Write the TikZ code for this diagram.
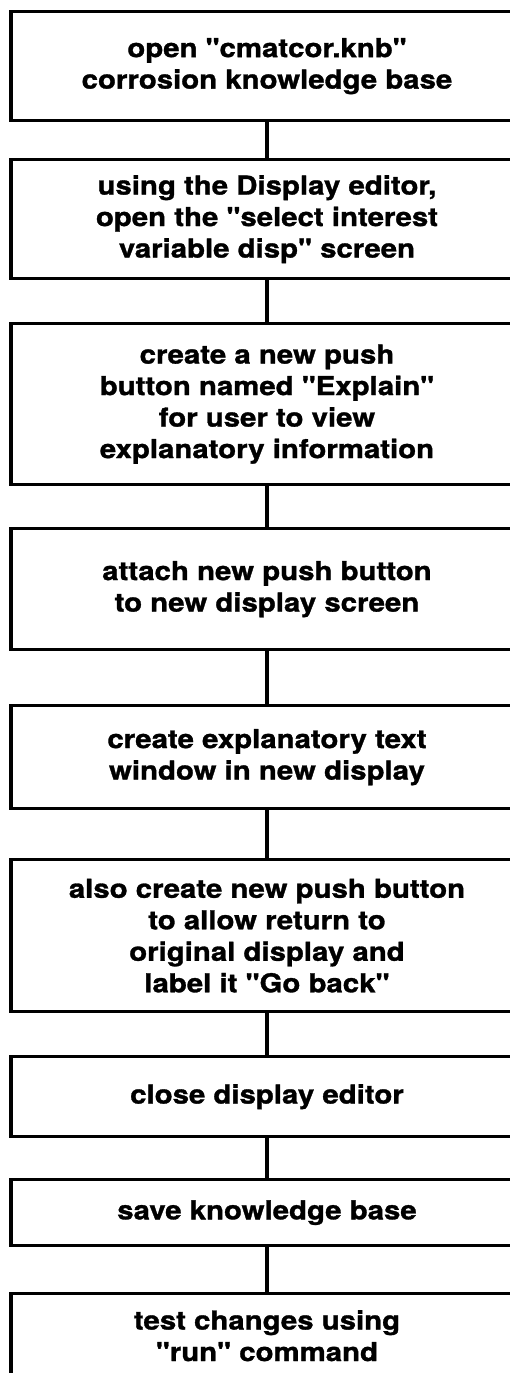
\documentclass[tikz,border=0pt]{standalone}
\usepackage{fontspec}
\newfontfamily\boxfont{TeX Gyre Heros}[FakeStretch=1.13, FakeBold=1.2]
\begin{document}
\begin{tikzpicture}[x=1pt, y=-1pt,
  stepbox/.style={draw=black, line width=3.4pt, minimum width=512pt,
    align=center, anchor=north, inner sep=0pt,
    font=\boxfont\bfseries\fontsize{26}{31.5}\selectfont},
  link/.style={draw=black, line width=3.4pt}]
\useasboundingbox (0,0) rectangle (510,1373);
\clip (0,0) rectangle (510,1373);

% process steps, top to bottom
\node[stepbox, minimum height=109pt] (s1) at (267,10)
  {open "cmatcor.knb"\\corrosion knowledge base};
\node[stepbox, minimum height=119pt] (s2) at (267,158)
  {using the Display editor,\\open the "select interest\\variable disp" screen};
\node[stepbox, minimum height=161pt] (s3) at (267,322)
  {create a new push\\button named "Explain"\\for user to view\\explanatory information};
\node[stepbox, minimum height=121pt] (s4) at (267,527)
  {attach new push button\\to new display screen};
\node[stepbox, minimum height=103pt] (s5) at (267,704)
  {create explanatory text\\window in new display};
\node[stepbox, minimum height=152pt] (s6) at (267,858)
  {also create new push button\\to allow return to\\original display and\\label it "Go back"};
\node[stepbox, minimum height=80pt] (s7) at (267,1055)
  {close display editor};
\node[stepbox, minimum height=66pt] (s8) at (267,1178)
  {save knowledge base};
\node[stepbox, minimum height=84pt] (s9) at (267,1292)
  {test changes using\\"run" command};

% connectors between consecutive steps
\draw[link] (s1.south) -- (s2.north);
\draw[link] (s2.south) -- (s3.north);
\draw[link] (s3.south) -- (s4.north);
\draw[link] (s4.south) -- (s5.north);
\draw[link] (s5.south) -- (s6.north);
\draw[link] (s6.south) -- (s7.north);
\draw[link] (s7.south) -- (s8.north);
\draw[link] (s8.south) -- (s9.north);
\end{tikzpicture}
\end{document}
